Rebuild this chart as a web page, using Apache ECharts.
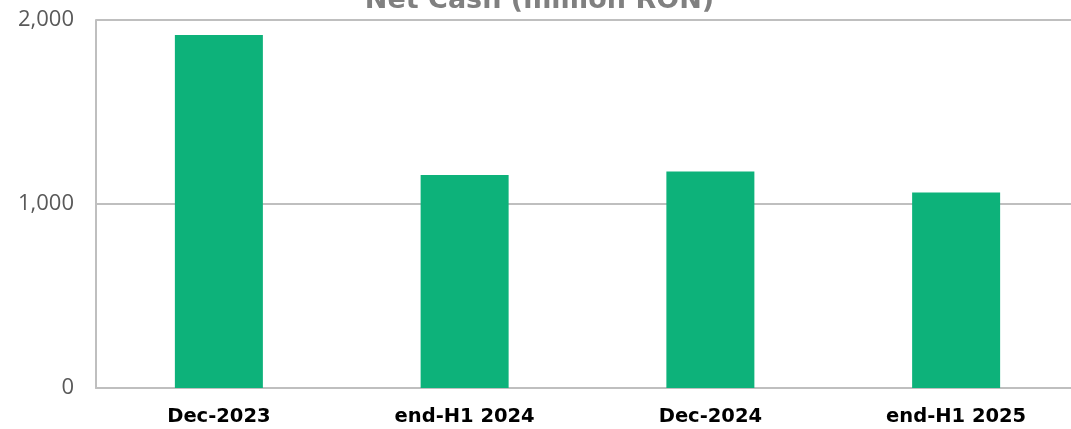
<!DOCTYPE html>
<html>
<head>
    <meta charset="utf-8">
    <title>Net Cash</title>
    <script src="https://cdn.jsdelivr.net/npm/echarts@6.0.0/dist/echarts.min.js"></script>
</head>
<style>
    html, body { margin: 0; padding: 0; background: #fff; overflow: hidden; }
</style>
<body>
<!-- plot area runs a little past the right edge of the window, as in the original -->
<div id="main" style="width: 1079px; height: 429px;"></div>
<script>
const periods = ['Dec-2023', 'end-H1 2024', 'Dec-2024', 'end-H1 2025'];
const netCash = [1918, 1157, 1177, 1063];
const yTicks = [0, 1000, 2000];

let myChart = echarts.init(document.getElementById('main'));

myChart.setOption({
    animation: false,
    title: {
        text: 'Net Cash (million RON)',
        left: 'center',
        top: -18,
        textStyle: { color: '#808080', fontSize: 27, fontWeight: 'bold', fontFamily: 'DejaVu Sans' }
    },
    grid: { left: 96, top: 20, bottom: 41, right: 0 },
    xAxis: {
        type: 'category',
        data: periods,
        axisLine: { lineStyle: { color: '#bfbfbf', width: 2 } },
        axisTick: { show: false },
        axisLabel: { color: '#000', fontSize: 19.5, fontWeight: 'bold', fontFamily: 'DejaVu Sans', margin: 19 }
    },
    yAxis: {
        type: 'value',
        min: yTicks[0],
        max: yTicks[yTicks.length - 1],
        interval: 1000,
        axisLine: { show: true, lineStyle: { color: '#bfbfbf', width: 2 } },
        axisTick: { show: false },
        splitLine: { lineStyle: { color: '#bfbfbf', width: 2 } },
        axisLabel: {
            color: '#595959', fontSize: 22, fontFamily: 'Open Sans', margin: 22,
            formatter: v => v.toLocaleString('en-US')
        }
    },
    series: [{
        type: 'bar',
        data: netCash,
        barWidth: 88,
        itemStyle: { color: '#0db27a' }
    }]
});
</script>
</body>
</html>
